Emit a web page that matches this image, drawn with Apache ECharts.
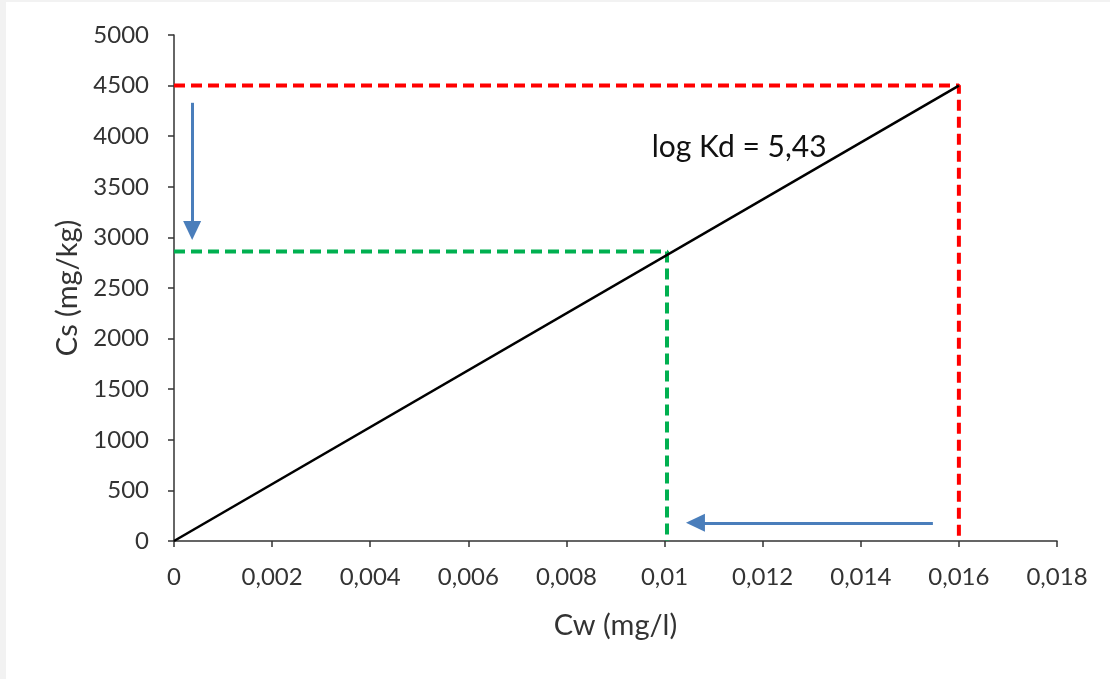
<!DOCTYPE html>
<html>
<head>
<meta charset="utf-8">
<script src="https://cdn.jsdelivr.net/npm/echarts@6/dist/echarts.min.js"></script>
<style>
  html, body { margin: 0; padding: 0; background: #f2f2f2; }
  #wrap { position: relative; width: 1110px; height: 679px; background: #f2f2f2; overflow: hidden; }
  #chart { position: absolute; left: 6px; top: 2px; width: 1104px; height: 677px; background: #fff; }
</style>
</head>
<body>
<div id="wrap"><div id="chart"></div></div>
<script>
// isotherm line Cs = Kd * Cw
var isoLine = [[0, 0], [0.016, 4500]];
// red read-off (Cs = 4500 -> Cw = 0.016)
var redGuide = [[0, 4500], [0.016, 4500], [0.016, 0]];
// green read-off (Cs ~ 2860 -> Cw ~ 0.01)
var greenGuide = [[0, 2860], [0.01005, 2860], [0.01005, 0]];
// blue arrows: [from, to] (the head is centred on "to")
var arrowDown = [[0.00037, 4330], [0.00037, 3068]];
var arrowLeft = [[0.01547, 180], [0.01063, 180]];
var noteText = 'log Kd = 5,43';
var notePos = [0.01152, 3890];

var xTicks = { min: 0, max: 0.018, step: 0.002 };
var yTicks = { min: 0, max: 5000, step: 500 };

var dom = document.getElementById('chart');
var myChart = echarts.init(dom);
var txt = '#333';
var font = 'Lato';

var option = {
  animation: false,
  grid: { left: 168, top: 33, right: 53, bottom: 138, containLabel: false },
  xAxis: {
    type: 'value',
    min: xTicks.min, max: xTicks.max, interval: xTicks.step,
    name: 'Cw (mg/l)', nameLocation: 'middle', nameGap: 70,
    nameTextStyle: { fontFamily: font, fontSize: 29, color: txt },
    axisLine: { show: true, lineStyle: { color: '#333', width: 1.5 } },
    axisTick: { show: true, length: 6, lineStyle: { color: '#333', width: 1.5 } },
    splitLine: { show: false },
    axisLabel: {
      fontFamily: font, fontSize: 24, color: txt, margin: 24,
      formatter: function (v) { return v === 0 ? '0' : String(+v.toFixed(3)).replace('.', ','); }
    }
  },
  yAxis: {
    type: 'value',
    min: yTicks.min, max: yTicks.max, interval: yTicks.step,
    name: 'Cs (mg/kg)', nameLocation: 'middle', nameGap: 92, nameRotate: 90,
    nameTextStyle: { fontFamily: font, fontSize: 29, color: txt },
    axisLine: { show: true, lineStyle: { color: '#333', width: 1.5 } },
    axisTick: { show: true, length: 6, lineStyle: { color: '#333', width: 1.5 } },
    splitLine: { show: false },
    axisLabel: {
      fontFamily: font, fontSize: 24, color: txt, margin: 25,
      formatter: function (v) { return String(v); }
    }
  },
  series: [
    {
      type: 'line', data: redGuide, showSymbol: false, silent: true, z: 3,
      lineStyle: { color: '#ff0000', width: 4, type: [11, 6] }
    },
    {
      type: 'line', data: greenGuide, showSymbol: false, silent: true, z: 3,
      lineStyle: { color: '#00b050', width: 4, type: [11, 6] }
    },
    {
      type: 'line', data: isoLine, showSymbol: false, silent: true, z: 4,
      lineStyle: { color: '#000', width: 2.6 },
      markPoint: {
        symbolSize: 0, silent: true,
        data: [{ coord: notePos, value: noteText }],
        label: { show: true, position: 'inside', formatter: noteText, fontFamily: font, fontSize: 30, color: '#111' }
      }
    },
    {
      type: 'line', data: [], showSymbol: false, silent: true,
      markLine: {
        silent: true, animation: false,
        symbol: ['none', 'triangle'], symbolSize: [18, 19],
        label: { show: false },
        lineStyle: { color: '#4a7ebb', width: 3, type: 'solid' },
        data: [
          [{ coord: arrowDown[0] }, { coord: arrowDown[1] }],
          [{ coord: arrowLeft[0] }, { coord: arrowLeft[1] }]
        ]
      }
    }
  ]
};

if (option && typeof option === 'object') {
  myChart.setOption(option, true);
  window.addEventListener('resize', function () { myChart.resize(); });
}
</script>
</body>
</html>
